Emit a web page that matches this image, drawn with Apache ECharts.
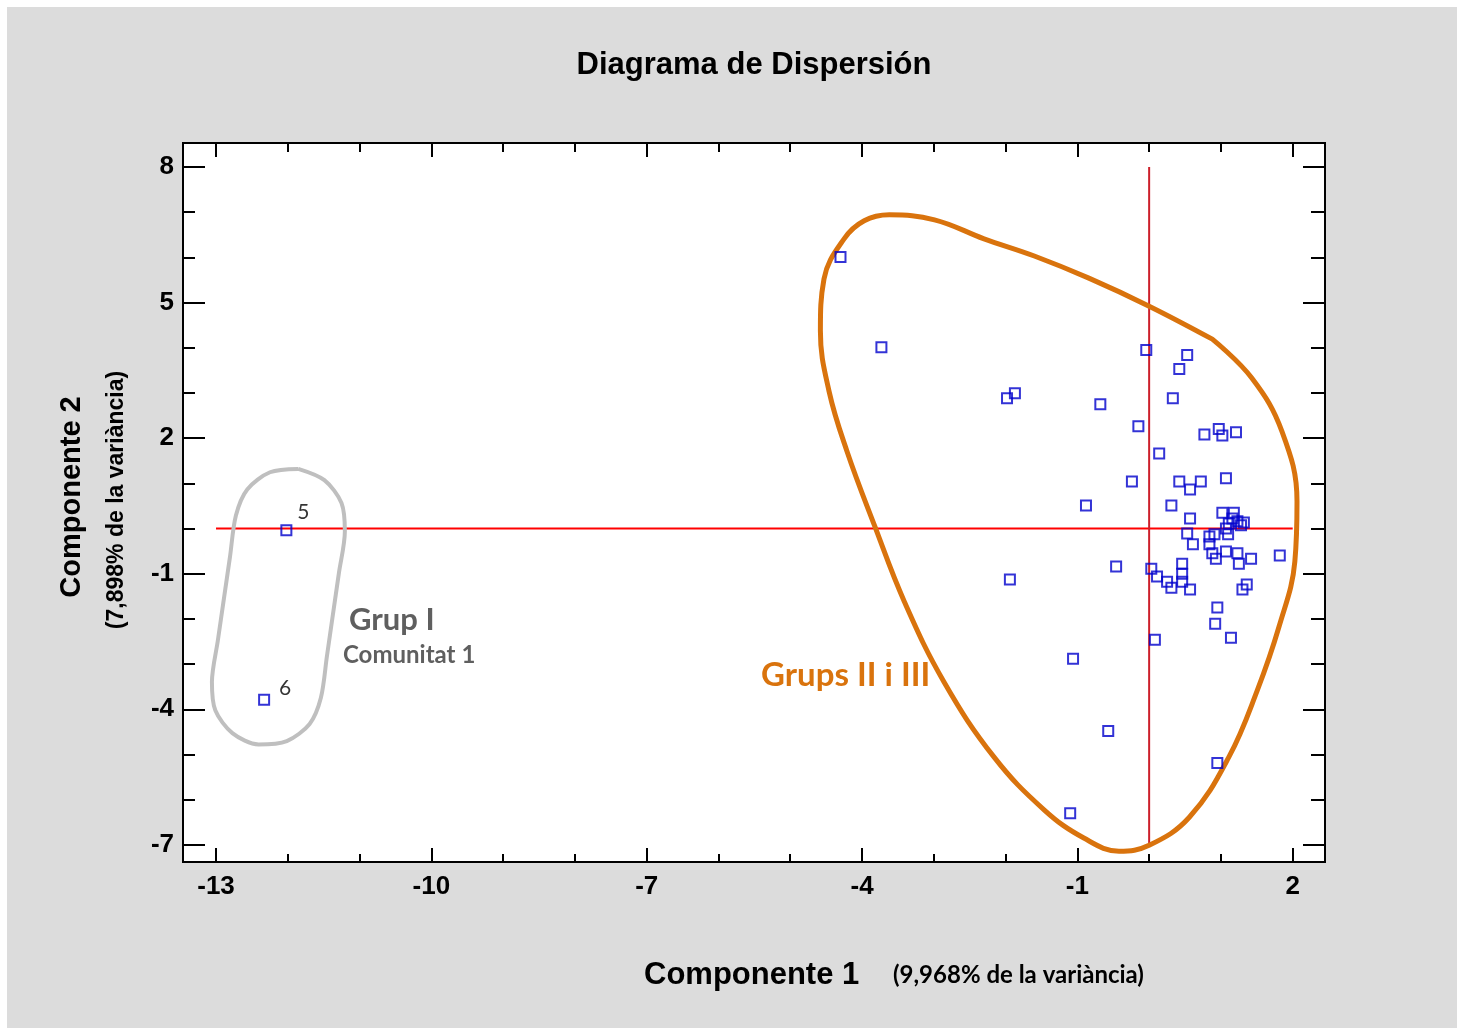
<!DOCTYPE html>
<html>
<head>
<meta charset="utf-8">
<script src="https://cdn.jsdelivr.net/npm/echarts@6/dist/echarts.min.js"></script>
<style>
  html, body { margin:0; padding:0; background:#ffffff; }
  #chart { position:absolute; left:7px; top:7px; width:1450px; height:1021px; background:#dcdcdc; }
</style>
</head>
<body>
<div id="chart"></div>
<script>
// ---- Data ----
const groupIX = [-12.02, -12.33];
const groupIY = [-0.04, -3.79];
const groupILabels = ['5', '6'];

const otherX = [-4.30, -3.73, -1.98, -1.87, -0.68, -0.04, 0.53, 0.42, 0.33, -0.15,
  0.77, 0.97, 1.02, 1.21, 0.14, -0.24, 0.42, 0.72, 0.57, 1.07,
  -0.88, 0.31, 0.57, 1.02, 1.18, 1.11, 1.23, 1.32, 1.07, 1.10,
  0.84, 0.91, 0.53, 0.61, 0.84, 0.93, 0.88, 1.07, 1.23, 1.25,
  1.42, 1.82, -0.46, -1.94, 0.03, 0.11, 0.25, 0.31, 0.46, 0.46,
  0.46, 0.57, 1.30, 1.36, 0.95, 0.92, 1.14, 0.08, -1.06, -0.57,
  0.95, -1.10, 1.28, 1.16];
const otherY = [6.01, 4.01, 2.88, 2.99, 2.75, 3.95, 3.84, 3.53, 2.88, 2.26,
  2.08, 2.20, 2.06, 2.13, 1.66, 1.04, 1.04, 1.04, 0.86, 1.11,
  0.51, 0.51, 0.22, 0.35, 0.35, 0.11, 0.16, 0.13, 0.00, -0.13,
  -0.18, -0.13, -0.11, -0.35, -0.35, -0.67, -0.55, -0.51, -0.55, -0.78,
  -0.67, -0.60, -0.84, -1.13, -0.89, -1.06, -1.18, -1.31, -0.78, -1.00,
  -1.18, -1.35, -1.35, -1.24, -1.75, -2.11, -2.42, -2.46, -2.88, -4.48,
  -5.19, -6.30, 0.07, 0.22];

// reference lines (x = 0 and y = 0 across the tick range)
const hLineX = [-13, 2];
const vLineY = [-7, 8];

// group outlines (data space)
const grayOutlineX = [-11.854, -11.490, -11.252, -11.205, -11.288, -11.372, -11.455, -11.539, -11.696, -12.014, -12.408,
  -12.772, -13.010, -13.057, -12.974, -12.890, -12.806, -12.723, -12.565, -12.248];
const grayOutlineY = [1.319, 1.069, 0.563, -0.064, -0.987, -1.907, -2.827, -3.745, -4.324, -4.703, -4.778,
  -4.528, -4.022, -3.395, -2.475, -1.552, -0.634, 0.286, 0.865, 1.244];
// orange outline: starts and ends at its corner (upper right), clockwise
const orangeOutlineX = [0.88, 1.43, 1.85, 2.06, 2.03, 1.81, 1.50, 1.11, 0.56, 0.00,
  -0.42, -0.91, -1.46, -2.16, -2.86, -3.41, -3.82, -4.21, -4.46, -4.58, -4.53, -4.25, -3.97, -3.62, -2.99, -2.30,
  -1.60, -0.84, 0.00, 0.88];
const orangeOutlineY = [4.19, 3.33, 2.15, 0.60, -0.73, -2.17, -3.61, -5.06, -6.39, -7.01,
  -7.14, -6.85, -6.23, -5.06, -3.39, -1.62, 0.04, 1.71, 3.04, 4.37, 5.52, 6.41, 6.81, 6.94, 6.83, 6.41,
  6.03, 5.54, 4.92, 4.19];

// ticks
const xMajor = [-13, -10, -7, -4, -1, 2];
const xMinor = [-12, -11, -9, -8, -6, -5, -3, -2, 0, 1];
const yMajor = [8, 5, 2, -1, -4, -7];
const yMinor = [7, 6, 4, 3, 1, 0, -2, -3, -5, -6];
const xRange = [-13.46, 2.45];
const yRange = [-7.38, 8.53];

// ---- Build options ----
const zip = (a, b) => a.map((v, i) => [v, b[i]]);
const closed = (a, b) => { const p = zip(a, b); p.push(p[0]); return p; };

const F = '"Liberation Sans", Arial, sans-serif';
const tickStyle = { color: '#000', width: 2 };

function xAx(pos, ticks, len, labels) {
  return {
    type: 'value', position: pos, min: xRange[0], max: xRange[1], gridIndex: 0,
    splitLine: { show: false },
    axisLine: { show: true, onZero: false, lineStyle: { color: '#000', width: 2 } },
    axisTick: { show: true, inside: true, length: len, customValues: ticks, lineStyle: tickStyle },
    axisLabel: labels ? { show: true, customValues: xMajor, margin: 12, fontFamily: F, fontWeight: 'bold', fontSize: 26, color: '#000' } : { show: false }
  };
}
function yAx(pos, ticks, len, labels) {
  return {
    type: 'value', position: pos, min: yRange[0], max: yRange[1], gridIndex: 0,
    splitLine: { show: false },
    axisLine: { show: true, onZero: false, lineStyle: { color: '#000', width: 2 } },
    axisTick: { show: true, inside: true, length: len, customValues: ticks, lineStyle: tickStyle },
    axisLabel: labels ? { show: true, customValues: yMajor, margin: 9, fontFamily: F, fontWeight: 'bold', fontSize: 26, color: '#000' } : { show: false }
  };
}

const markerStyle = { color: 'rgba(0,0,0,0)', borderColor: '#0000cc', borderWidth: 2 };

const option = {
  animation: false,
  backgroundColor: '#dcdcdc',
  grid: { left: 176, top: 136, width: 1142, height: 719, show: true, backgroundColor: '#ffffff', borderColor: '#000', borderWidth: 2 },
  xAxis: [xAx('bottom', xMajor, 14, true), xAx('bottom', xMinor, 8, false), xAx('top', xMajor, 14, false), xAx('top', xMinor, 9, false)],
  yAxis: [yAx('left', yMajor, 22, true), yAx('left', yMinor, 12, false), yAx('right', yMajor, 22, false), yAx('right', yMinor, 14, false)],
  series: [
    { type: 'line', data: zip(hLineX, [0, 0]), showSymbol: false, z: 1, silent: true, lineStyle: { color: '#ff0000', width: 2 } },
    { type: 'line', data: zip([0, 0], vLineY), showSymbol: false, z: 1, silent: true, lineStyle: { color: '#cc1f2a', width: 2 } },
    { type: 'line', data: closed(grayOutlineX, grayOutlineY), showSymbol: false, smooth: 0.3, z: 2, silent: true, lineStyle: { color: '#bfbfbf', width: 4 } },
    { type: 'line', data: zip(orangeOutlineX, orangeOutlineY), showSymbol: false, smooth: 0.4, z: 2, silent: true, lineStyle: { color: '#d9730d', width: 5, cap: 'round', join: 'round' } },
    { type: 'scatter', symbol: 'rect', symbolSize: 10, z: 3, itemStyle: markerStyle,
      data: zip(groupIX, groupIY).map((p, i) => ({ value: p, name: groupILabels[i],
        label: { show: true, position: 'right', offset: i === 0 ? [0, -18] : [4, -12], formatter: '{b}', fontFamily: 'Lato, sans-serif', fontSize: 21, color: '#000' } })) },
    { type: 'scatter', symbol: 'rect', symbolSize: 10, z: 3, itemStyle: markerStyle, data: zip(otherX, otherY) }
  ],
  graphic: [
    { type: 'text', x: 747, y: 58, style: { text: 'Diagrama de Dispersión', font: 'bold 31px ' + F, fill: '#000', align: 'center', verticalAlign: 'middle' } },
    { type: 'text', x: 637, y: 968, style: { text: 'Componente 1', font: 'bold 31px ' + F, fill: '#000', align: 'left', verticalAlign: 'middle' } },
    { type: 'text', x: 886, y: 968, style: { text: '(9,968% de la variància)', font: 'bold 24px Lato, sans-serif', fill: '#000', align: 'left', verticalAlign: 'middle' } },
    { type: 'text', x: 65, y: 490, rotation: Math.PI / 2, style: { text: 'Componente 2', font: 'bold 29px ' + F, fill: '#000', align: 'center', verticalAlign: 'middle' } },
    { type: 'text', x: 110, y: 493, rotation: Math.PI / 2, style: { text: '(7,898% de la variància)', font: 'bold 23px ' + F, fill: '#000', align: 'center', verticalAlign: 'middle' } },
    { type: 'text', x: 342, y: 613, z: 10, style: { text: 'Grup I', font: 'bold 31px Lato, sans-serif', fill: '#5f5f5f', align: 'left', verticalAlign: 'middle' } },
    { type: 'text', x: 336, y: 648, z: 10, style: { text: 'Comunitat 1', font: 'bold 24px Lato, sans-serif', fill: '#5f5f5f', align: 'left', verticalAlign: 'middle' } },
    { type: 'text', x: 754, y: 668, z: 10, style: { text: 'Grups II i III', font: 'bold 33px Lato, sans-serif', fill: '#d9730d', align: 'left', verticalAlign: 'middle' } }
  ]
};

const chart = echarts.init(document.getElementById('chart'));
chart.setOption(option);
</script>
</body>
</html>
